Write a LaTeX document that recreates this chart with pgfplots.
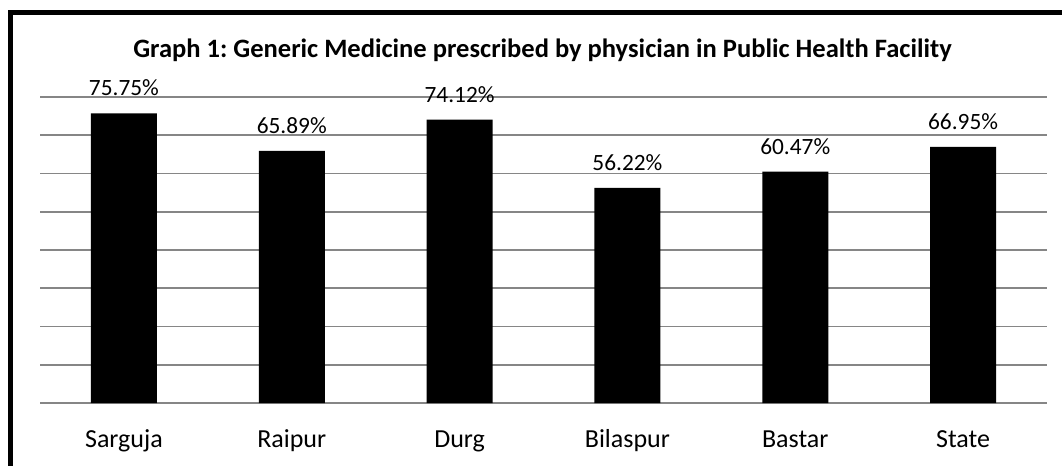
\documentclass[border=0pt]{standalone}
\usepackage{pgfplots}
\pgfplotsset{compat=1.18}
\usepackage{fontspec}
\setmainfont{Carlito}
\frenchspacing
\definecolor{gridgray}{RGB}{134,134,134}
\begin{document}
\begin{tikzpicture}
\useasboundingbox (0,0) rectangle (796.5pt,348.75pt);
\clip (0,0) rectangle (796.5pt,348.75pt);
\fill[white] (0,0) rectangle (796.5pt,348.75pt);
\draw[line width=3.75pt] (7.9pt,-20pt) -- (7.9pt,339.4pt) -- (820pt,339.4pt);
\node[anchor=base, font=\fontsize{19.9}{23}\selectfont\bfseries] at (406.9pt,305.25pt) {Graph 1: Generic Medicine prescribed by physician in Public Health Facility};
\begin{axis}[
  at={(30pt,46.5pt)}, anchor=south west,
  scale only axis, width=755.25pt, height=229.5pt,
  xmin=-0.5, xmax=5.5, ymin=0, ymax=80,
  ytick={0,10,...,80}, yticklabels={},
  xtick={0,1,2,3,4,5},
  xticklabels={Sarguja,Raipur,Durg,Bilaspur,Bastar,State},
  xticklabel style={anchor=base, yshift=-33pt, font=\fontsize{19.5}{22}\selectfont},
  ymajorgrids, grid style={draw=gridgray, line width=1.2pt},
  axis line style={draw=none}, major tick length=0pt,
  clip=false,
]
\addplot[ybar, fill=black, draw=none, bar width=49.5pt,
  nodes near coords={\pgfmathprintnumber[fixed,fixed zerofill,precision=2,assume math mode=true]{\pgfplotspointmeta}\%},
  nodes near coords style={anchor=base, yshift=13pt, inner sep=0pt, font=\fontsize{17.5}{20}\selectfont}]
  coordinates {(0,75.75) (1,65.89) (2,74.12) (3,56.22) (4,60.47) (5,66.95)};
\end{axis}
\end{tikzpicture}
\end{document}
